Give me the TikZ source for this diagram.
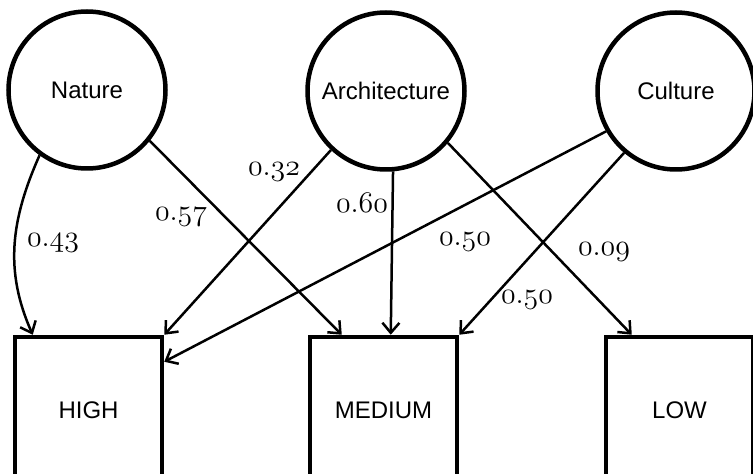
\documentclass[tikz,border=0pt]{standalone}
\usepackage{fontspec}
\usepackage{graphicx}
\newfontfamily\nodefont{Liberation Sans}
\usetikzlibrary{arrows.meta}
\newcommand\wnum[2]{\scalebox{1.2}{\usefont{OML}{lmm}{m}{it}#1\char58 #2}}

\begin{document}
\begin{tikzpicture}[x=1pt,y=1pt,
  latent/.style={circle,draw,line width=4.5pt,minimum size=157pt,inner sep=0pt,font=\nodefont\fontsize{24}{28}\selectfont},
  outcome/.style={rectangle,draw,line width=4.5pt,minimum size=147pt,inner sep=0pt,font=\nodefont\fontsize{24}{28}\selectfont},
  link/.style={line width=2.5pt,-{Straight Barb[length=10pt,width=17pt]}},
  weight/.style={inner sep=0pt,font=\fontsize{28}{30}\selectfont}]
  \path[use as bounding box,clip] (0,0) rectangle (753,474);
  % latent factors
  \node[latent] (nature) at (87,384) {Nature};
  \node[latent] (archi) at (386,383) {Architecture};
  \node[latent] (culture) at (676,383) {Culture};
  % outcome levels (bottom edge runs off the page)
  \node[outcome] (high) at (88.5,63.5) {HIGH};
  \node[outcome] (medium) at (383.5,63.5) {MEDIUM};
  \node[outcome] (low) at (679.5,63.5) {LOW};
  % paths
  \draw[link] (nature.-126) to[out=-114,in=114] ([xshift=20pt]high.north west);
  \draw[link] (nature.-39) -- ([xshift=34pt]medium.north west);
  \draw[link] (archi.-133) -- (high.north east);
  \draw[link] (archi.-85) -- ([xshift=83pt]medium.north west);
  \draw[link] (archi.-40) -- ([xshift=28pt]low.north west);
  \draw[link] (culture.-150) -- ([yshift=-27pt]high.north east);
  \draw[link] (culture.-130) -- (medium.north east);
  % weights
  \node[weight] (w1) at (53,231) {\wnum{0}{43}};
  \node[weight] (w2) at (181,257) {\wnum{0}{57}};
  \node[weight] (w3) at (274,302) {\wnum{0}{32}};
  \node[weight] (w4) at (362,271) {\wnum{0}{60}};
  \node[weight] (w5) at (465,232) {\wnum{0}{50}};
  \node[weight] (w6) at (604,222) {\wnum{0}{09}};
  \node[weight] (w7) at (527,174) {\wnum{0}{50}};
\end{tikzpicture}
\end{document}
